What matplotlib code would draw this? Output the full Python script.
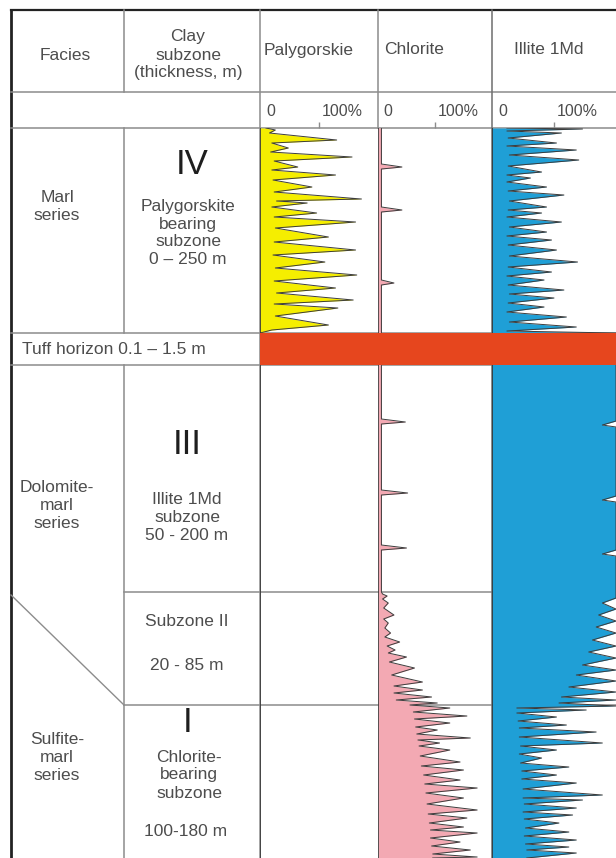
import matplotlib.pyplot as plt

plt.rcParams['font.family'] = ['Liberation Sans', 'DejaVu Sans']

W, H, DPI = 616, 858, 100

# section depth (0 = top of zone IV), zones top to bottom
zone_tops = [0, 205, 237, 464, 577]
zone_bottoms = [205, 237, 464, 577, 730]

# palygorskite content, % of the column scale
paly_depth = [0, 2, 5, 12, 15, 20, 24, 29, 33, 39, 42, 47, 52, 59, 64, 71, 73, 75, 79, 85,
              89, 94, 100, 109, 114, 122, 127, 134, 140, 147, 153, 160, 165, 172, 176, 180,
              188, 197, 202, 205]
paly_value = [5, 13, 8, 65, 10, 24, 9, 78, 12, 32, 10, 64, 11, 44, 12, 86, 14, 40, 10, 48,
              12, 81, 13, 58, 12, 81, 11, 55, 13, 82, 12, 64, 14, 79, 12, 66,
              13, 58, 10, 0]

# chlorite content
chl_depth = [0, 36, 39, 41, 79, 82, 84, 152, 155, 157, 205,
             237, 291, 294, 296, 362, 365, 367, 417, 420, 422,
             464, 466, 468, 471, 475, 480, 487, 491, 495, 500, 505, 509, 514, 518, 522, 525,
             529, 534, 540, 547, 554, 558, 562, 565, 569, 572, 575, 577,
             580, 584, 588, 591, 595, 599, 602, 606, 610, 612, 615, 618, 622, 628, 634, 638,
             642, 647, 652, 656, 660, 665, 670, 676, 682, 686, 690, 695, 699, 702, 705, 710,
             714, 718, 722, 726, 729, 730]
chl_value = [3, 3, 21, 3, 3, 21, 3, 3, 14, 3, 3,
             3, 3, 24, 3, 3, 26, 3, 3, 25, 3,
             3, 4, 8, 4, 9, 5, 14, 5, 9, 6, 11, 6, 19, 8, 15, 9,
             25, 10, 32, 12, 39, 14, 39, 14, 47, 16, 52, 28,
             63, 31, 78, 32, 63, 33, 52, 34, 81, 35, 54, 36, 63, 37, 72, 38,
             75, 40, 72, 41, 87, 42, 75, 43, 87, 44, 78, 45, 75, 46, 87, 46,
             72, 47, 81, 48, 87, 48]

# illite 1Md content
ill_depth = [0, 1, 3, 5, 10, 15, 18, 22, 27, 32, 38, 44, 47, 50, 54, 59, 63, 67, 73, 79,
             82, 85, 89, 94, 99, 104, 108, 112, 117, 122, 128, 134, 139, 144, 148, 152, 157,
             162, 166, 170, 175, 179, 184, 189, 194, 199, 203, 205,
             237, 293, 297, 299, 368, 372, 374, 422, 426, 428, 464,
             470, 475, 481, 487, 493, 499, 505, 512, 518, 524, 530, 537, 542, 547, 553, 559,
             564, 569, 572, 575, 578,
             580, 582, 585, 589, 593, 597, 600, 604, 609, 615, 618, 622, 626, 630, 635, 639,
             643, 647, 651, 655, 661, 667, 670, 672, 676, 680, 684, 687, 691, 695, 700, 704,
             708, 712, 716, 719, 722, 725, 730]
ill_value = [12, 73, 12, 56, 13, 52, 12, 68, 14, 70, 13, 40, 12, 31, 12, 44, 13, 58, 14, 44,
             13, 40, 12, 56, 14, 44, 12, 48, 13, 52, 14, 69, 13, 48, 12, 42, 13,
             58, 14, 50, 13, 42, 12, 60, 14, 68, 12, 100,
             100, 100, 89, 100, 100, 89, 100, 100, 89, 100, 100,
             100, 89, 100, 86, 100, 84, 100, 81, 100, 78, 100, 73, 100, 68, 100, 62,
             100, 56, 100, 54, 100,
             20, 76, 20, 52, 21, 60, 22, 84, 22, 89, 23, 52, 22, 40, 23, 62,
             24, 52, 24, 68, 25, 89, 25, 73, 26, 68, 25, 65, 26, 54, 27, 62,
             26, 68, 27, 62, 28, 68, 28]

# table columns (px): facies | subzone | palygorskite | chlorite | illite
col_x = [11, 124, 260, 378, 492, 616]
top, head_bottom, scale_bottom = 10, 92, 128

grid = '#8c8c8c'
ink = '#4d4d4d'
fs = 12.5

fig = plt.figure(figsize=(W / DPI, H / DPI), dpi=DPI)
ax = fig.add_axes([0, 0, 1, 1])
ax.set_xlim(0, W)
ax.set_ylim(H, 0)
ax.axis('off')


def py(depth):
    return scale_bottom + depth


# frame and grid
ax.plot([col_x[0], W], [top, top], color='#222222', lw=1.6)
ax.plot([col_x[0], col_x[0]], [top, H], color='#222222', lw=2.0)
for y in [head_bottom, scale_bottom, py(zone_tops[1]), py(zone_tops[2])]:
    ax.plot([col_x[0], W], [y, y], color=grid, lw=1.1)
for y in [py(zone_tops[3]), py(zone_tops[4])]:
    ax.plot([col_x[1], W], [y, y], color=grid, lw=1.1)
ax.plot([col_x[0], col_x[1]], [py(zone_tops[3]) + 3, py(zone_tops[4])], color=grid, lw=1.0)

ax.plot([col_x[1]] * 2, [top, head_bottom], color=grid, lw=1.1)
ax.plot([col_x[1]] * 2, [scale_bottom, py(zone_bottoms[0])], color=grid, lw=1.1)
ax.plot([col_x[1]] * 2, [py(zone_tops[2]), H], color=grid, lw=1.1)
ax.plot([col_x[2]] * 2, [top, H], color=grid, lw=1.1)
ax.plot([col_x[3]] * 2, [top, scale_bottom], color=grid, lw=1.1)
ax.plot([col_x[4]] * 2, [top, H], color='#6e6e6e', lw=1.1)

# header texts
ax.text(65, 55, 'Facies', ha='center', va='center', fontsize=fs, color=ink)
ax.text(188, 55, 'Clay\nsubzone\n(thickness, m)', ha='center', va='center',
        fontsize=fs, color=ink, linespacing=1.25)
ax.text(264, 50, 'Palygorskie', ha='left', va='center', fontsize=fs, color=ink)
ax.text(414, 50, 'Chlorite', ha='center', va='center', fontsize=fs, color=ink)
ax.text(549, 50, 'Illite 1Md', ha='center', va='center', fontsize=fs, color=ink)

# zone labels
ax.text(57, 207, 'Marl\nseries', ha='center', va='center', fontsize=fs, color=ink, linespacing=1.25)
ax.text(57, 505, 'Dolomite-\nmarl\nseries', ha='center', va='center', fontsize=fs,
        color=ink, linespacing=1.25)
ax.text(57, 758, 'Sulfite-\nmarl\nseries', ha='center', va='center', fontsize=fs,
        color=ink, linespacing=1.25)

big = 25
ax.text(192, 165, 'IV', ha='center', va='center', fontsize=big, color='#1e1e1e')
ax.text(188, 233, 'Palygorskite\nbearing\nsubzone\n0 – 250 m', ha='center', va='center',
        fontsize=fs, color=ink, linespacing=1.25)
ax.text(22, 350, 'Tuff horizon 0.1 – 1.5 m', ha='left', va='center', fontsize=fs, color=ink)
ax.text(187, 445, 'III', ha='center', va='center', fontsize=big, color='#1e1e1e')
ax.text(187, 518, 'Illite 1Md\nsubzone\n50 - 200 m', ha='center', va='center', fontsize=fs,
        color=ink, linespacing=1.25)
ax.text(187, 622, 'Subzone II', ha='center', va='center', fontsize=fs, color=ink)
ax.text(187, 665, '20 - 85 m', ha='center', va='center', fontsize=fs, color=ink)
ax.text(188, 722, 'I', ha='center', va='center', fontsize=big, color='#1e1e1e')
ax.text(189, 775, 'Chlorite-\nbearing\nsubzone', ha='center', va='center', fontsize=fs,
        color=ink, linespacing=1.25)
ax.text(186, 832, '100-180 m', ha='center', va='center', fontsize=fs, color=ink)

# mineral logs
panels = [
    (col_x[2], col_x[3], paly_depth, paly_value, '#f5ee00'),
    (col_x[3], col_x[4], chl_depth, chl_value, '#f3a9b3'),
    (col_x[4], W, ill_depth, ill_value, '#1f9fd6'),
]
for x0, x1, depth, value, color in panels:
    pa = fig.add_axes([x0 / W, 0, (x1 - x0) / W, (H - scale_bottom) / H])
    pa.set_xlim(0, 100)
    pa.set_ylim(H - scale_bottom, 0)
    pa.patch.set_visible(False)
    for s in pa.spines.values():
        s.set_visible(False)
    pa.set_yticks([])
    pa.xaxis.tick_top()
    pa.set_xticks([50])
    pa.set_xticklabels([])
    pa.tick_params(axis='x', direction='out', length=4, width=1, color=grid)
    pa.fill_betweenx(depth, 0, value, color=color, lw=0)
    pa.plot(value, depth, color='#3c3c3c', lw=0.7)
    pa.axvline(0, color='#2a2a2a', lw=1.1)
    pa.axhspan(zone_tops[1], zone_bottoms[1], color='#e6461e', lw=0, zorder=5)
    pa.text(5, -17, '0', ha='left', va='center', fontsize=fs - 1, color=ink)
    pa.text(52, -17, '100%', ha='left', va='center', fontsize=fs - 1, color=ink)

fig.savefig('out.png', dpi=DPI)
